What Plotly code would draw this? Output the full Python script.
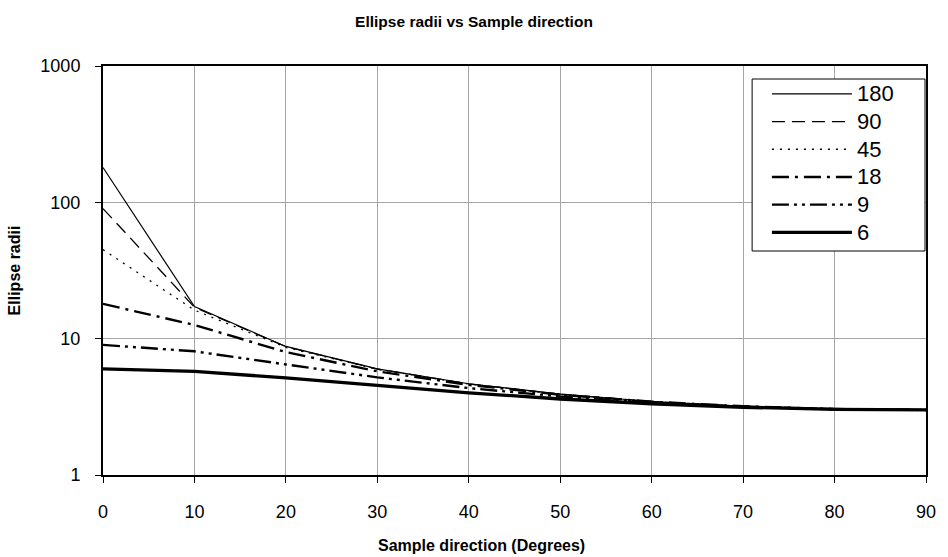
import plotly.graph_objects as go

# Sample direction (degrees)
directions = [0, 10, 20, 30, 40, 50, 60, 70, 80, 90]

# Ellipse radii, one series per major radius
series_names = ["180", "90", "45", "18", "9", "6"]
r180 = [180, 17.2, 8.77, 6.0, 4.67, 3.92, 3.46, 3.19, 3.05, 3.0]
r90 = [90, 17.0, 8.73, 5.99, 4.66, 3.91, 3.46, 3.19, 3.05, 3.0]
r45 = [45, 16.2, 8.63, 5.96, 4.65, 3.91, 3.46, 3.19, 3.05, 3.0]
r18 = [18, 12.6, 7.97, 5.76, 4.58, 3.88, 3.45, 3.19, 3.05, 3.0]
r9 = [9, 8.08, 6.47, 5.20, 4.34, 3.77, 3.40, 3.17, 3.04, 3.0]
r6 = [6, 5.75, 5.16, 4.54, 4.01, 3.61, 3.33, 3.14, 3.03, 3.0]
series_values = [r180, r90, r45, r18, r9, r6]

y_tick_vals = [1, 10, 100, 1000]
y_tick_text = ["1", "10", "100", "1000"]
x_tick_vals = directions

title_text = "Ellipse radii vs Sample direction"
x_title = "Sample direction (Degrees)"
y_title = "Ellipse radii"

styles = [
    dict(width=1.2, dash="solid"),
    dict(width=1.3, dash="13px,7px"),
    dict(width=1.3, dash="2px,6px"),
    dict(width=2.4, dash="17px,6px,3px,6px"),
    dict(width=2.4, dash="17px,5px,3px,5px,3px,5px"),
    dict(width=3.3, dash="solid"),
]

FONT = "Arial, 'Liberation Sans', sans-serif"

# plot area in pixels (for converting layout positions to paper coords)
PL, PR, PT, PB = 103, 936, 66, 475
def px_x(px):
    return (px - PL) / (PR - PL)
def px_y(py):
    return 1 - (py - PT) / (PB - PT)

fig = go.Figure()
for name, vals, st in zip(series_names, series_values, styles):
    fig.add_trace(go.Scatter(
        x=directions, y=vals, mode="lines",
        name="<span style='font-size:22px'>" + name + "</span>",
        line=dict(color="black", width=st["width"], dash=st["dash"]),
    ))

fig.update_layout(
    width=948, height=557,
    paper_bgcolor="white", plot_bgcolor="white",
    margin=dict(l=PL, r=948 - PR, t=PT, b=557 - PB),
    font=dict(family=FONT, color="black", size=18),
    title=dict(text="<b>" + title_text + "</b>", x=0.5, xanchor="center",
               y=1 - 22 / 557, yanchor="middle", font=dict(size=15.5, family=FONT)),
    showlegend=True,
    legend=dict(x=px_x(775), y=px_y(75), xanchor="left", yanchor="top",
                borderwidth=0, bgcolor="rgba(0,0,0,0)",
                font=dict(size=19, family=FONT), tracegroupgap=0,
                itemwidth=80),
    shapes=[dict(type="rect", xref="paper", yref="paper",
                 x0=px_x(760), x1=px_x(935), y0=px_y(251), y1=px_y(79),
                 line=dict(color="black", width=1), fillcolor="white", layer="above")],
    annotations=[dict(text="<b>" + x_title + "</b>", xref="paper", yref="paper",
                      x=px_x(486), y=px_y(545), xanchor="center", yanchor="middle",
                      showarrow=False, font=dict(size=16, family=FONT))],
)
fig.update_xaxes(
    range=[0, 90], tickvals=x_tick_vals, ticks="outside", ticklen=6, tickcolor="black",
    showline=True, linecolor="black", linewidth=2, mirror=True,
    showgrid=True, gridcolor="#a6a6a6", gridwidth=1, zeroline=False,
    ticklabelstandoff=13,
)
fig.update_yaxes(
    type="log", range=[0, 3], tickvals=y_tick_vals, ticktext=y_tick_text,
    ticks="outside", ticklen=6, tickcolor="black",
    showline=True, linecolor="black", linewidth=2, mirror=True,
    showgrid=True, gridcolor="#a6a6a6", gridwidth=1, zeroline=False,
    ticklabelstandoff=11,
    title=dict(text="<b>" + y_title + "</b>", font=dict(size=16), standoff=16),
)

fig.write_html("out.html")
